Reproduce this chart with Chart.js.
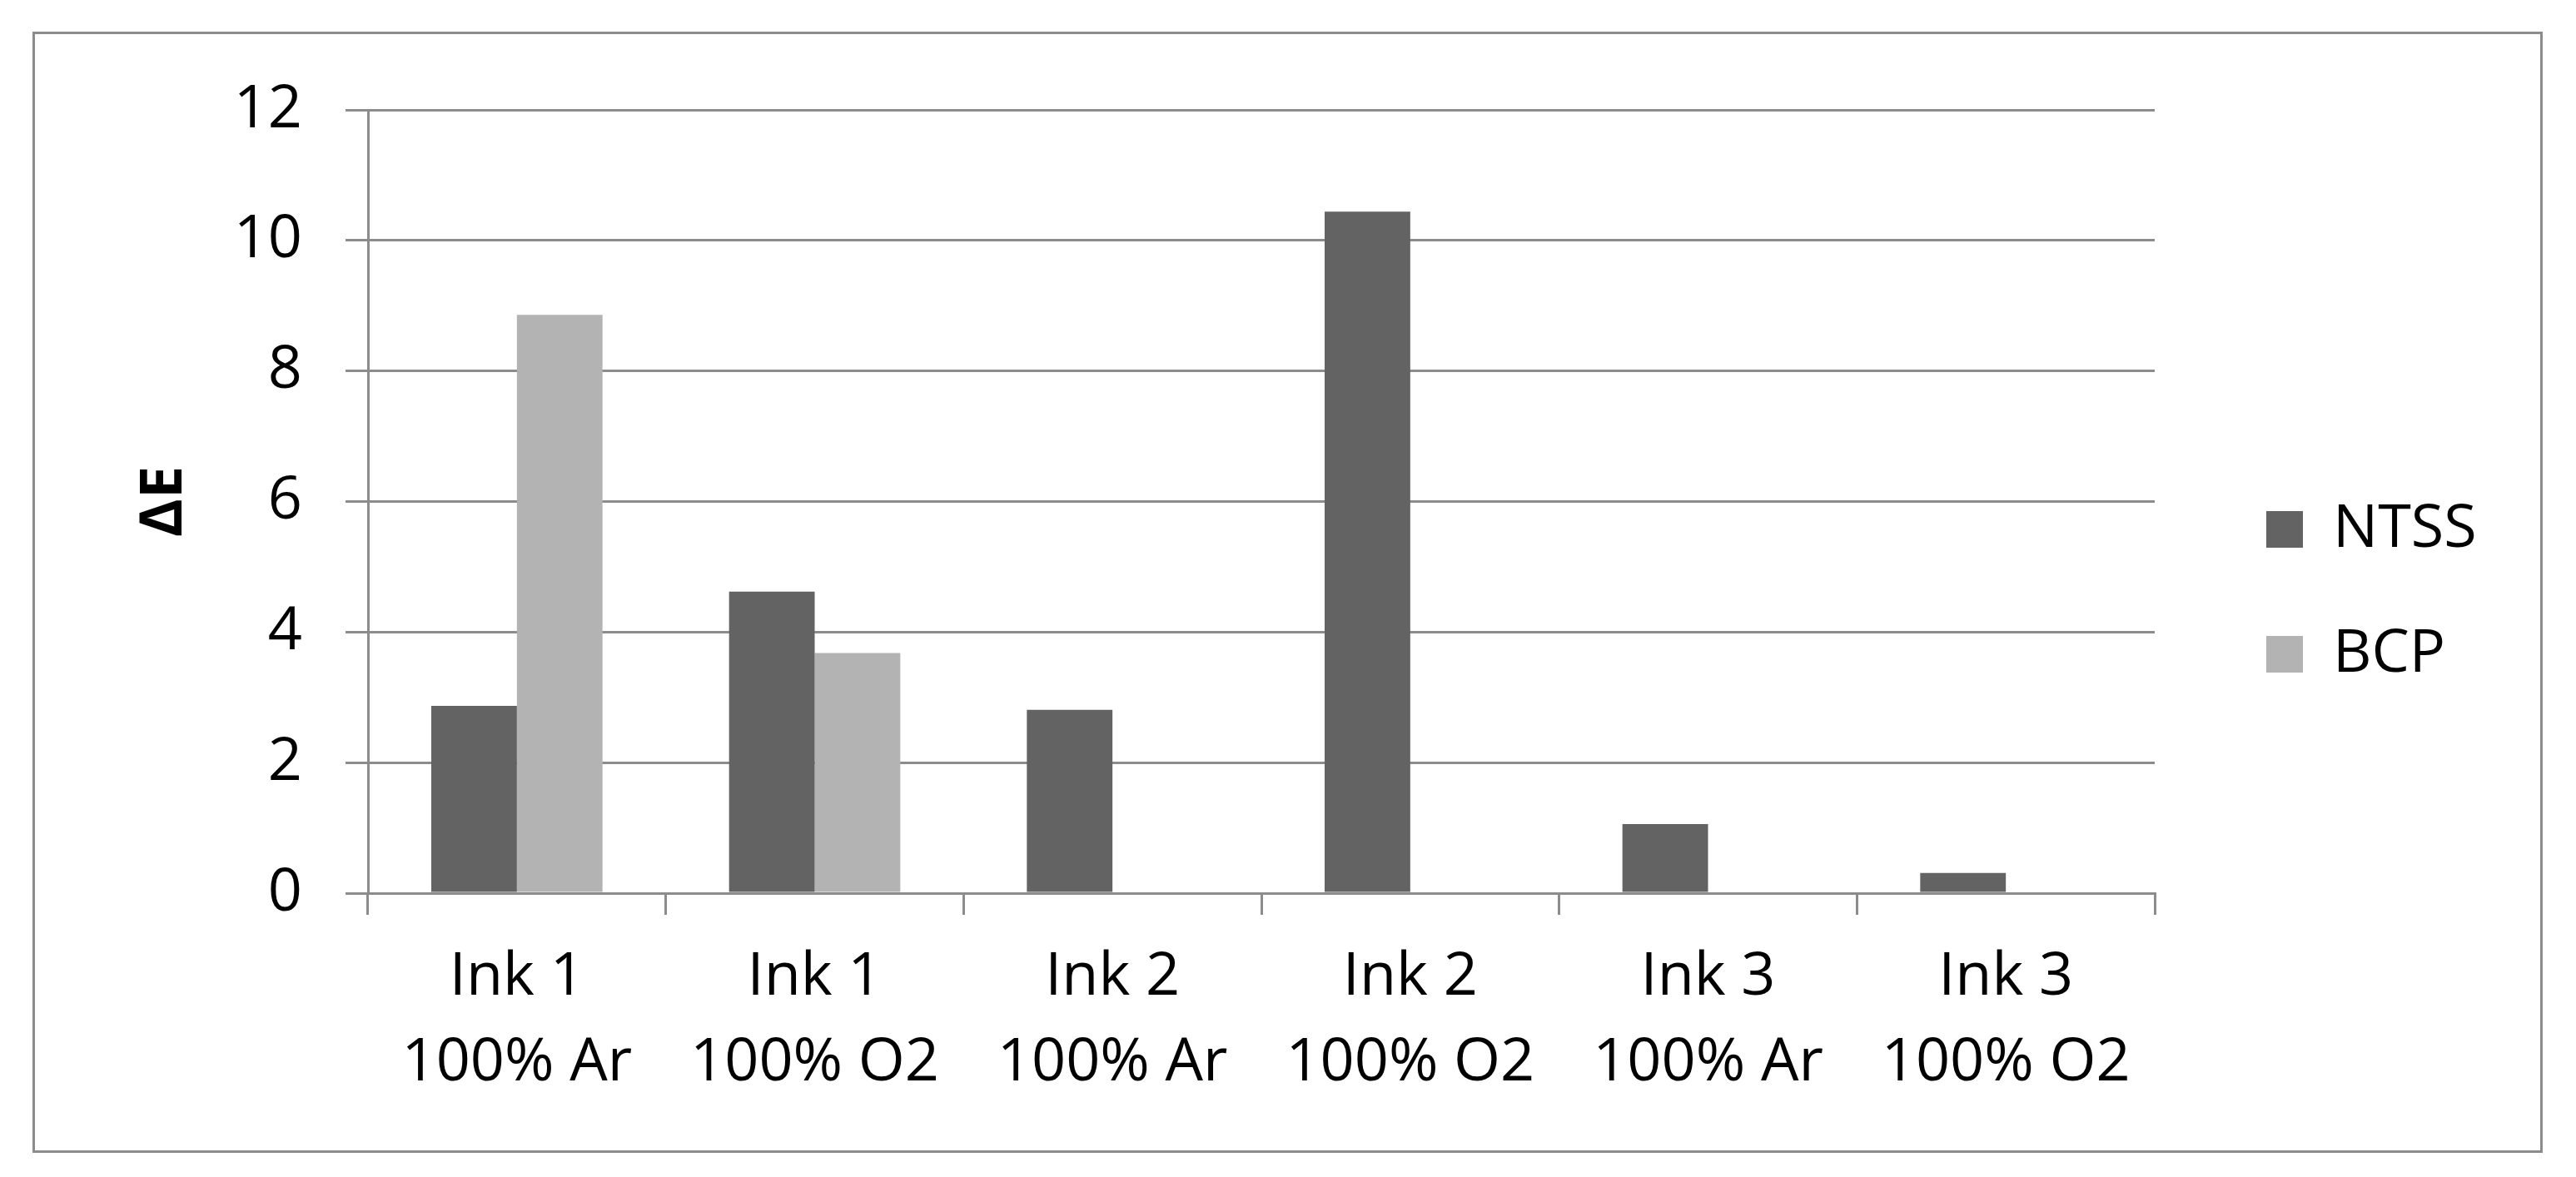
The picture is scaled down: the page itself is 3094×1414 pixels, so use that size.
<!DOCTYPE html>
<html>
<head>
<meta charset="utf-8">
<title>ΔE – NTSS vs BCP</title>
<script src="https://cdn.jsdelivr.net/npm/chart.js@4.4.1/dist/chart.umd.min.js"></script>
<style>
  html, body { margin: 0; padding: 0; background: #fff; }
  canvas { display: block; }
</style>
</head>
<body>
<canvas id="chart" width="3094" height="1414"></canvas>
<script>
// two-line category labels: ink / plasma gas
const inks = ['Ink 1', 'Ink 1', 'Ink 2', 'Ink 2', 'Ink 3', 'Ink 3'];
const gases = ['100% Ar', '100% O2', '100% Ar', '100% O2', '100% Ar', '100% O2'];

const ntss = [2.87, 4.62, 2.81, 10.44, 1.06, 0.31];
const bcp = [8.86, 3.68, null, null, null, null];

const yTicks = [0, 2, 4, 6, 8, 10, 12];

const GRID = '#8c8c8c';
const FONT = "'Open Sans', sans-serif";

// white page plus the thin grey chart frame
const frame = {
  id: 'frame',
  beforeDraw(chart) {
    const ctx = chart.ctx;
    ctx.save();
    ctx.fillStyle = '#fff';
    ctx.fillRect(0, 0, chart.width, chart.height);
    ctx.strokeStyle = GRID;
    ctx.lineWidth = 3;
    ctx.strokeRect(40.5, 39.5, 3012, 1344);
    ctx.restore();
  }
};

// Excel centres the legend on the whole chart box, not on the plot area
const legendSpot = {
  id: 'legendSpot',
  afterLayout(chart) {
    const lg = chart.legend;
    const dx = 56;
    const dy = 711 - (lg.top + lg.bottom) / 2;
    lg.left += dx;
    lg.right += dx + 200; // legend clips to its box, leave room for the text
    lg.top += dy;
    lg.bottom += dy;
  }
};

new Chart(document.getElementById('chart'), {
  type: 'bar',
  data: {
    labels: inks.map((ink, i) => [ink, gases[i]]),
    datasets: [
      { label: 'NTSS', data: ntss, backgroundColor: '#636363', borderWidth: 0 },
      { label: 'BCP', data: bcp, backgroundColor: '#b3b3b3', borderWidth: 0 }
    ]
  },
  options: {
    responsive: false,
    animation: false,
    events: [],
    layout: { padding: { left: 120, top: 132, right: 206, bottom: 91 } },
    datasets: { bar: { categoryPercentage: 0.575, barPercentage: 1 } },
    plugins: {
      legend: {
        position: 'right',
        maxWidth: 300,
        labels: {
          boxWidth: 44,
          boxHeight: 44,
          padding: 78,
          color: '#000',
          font: { family: FONT, size: 72 }
        }
      },
      tooltip: { enabled: false }
    },
    scales: {
      x: {
        grid: { offset: true, drawOnChartArea: false, color: GRID, lineWidth: 3, tickLength: 26 },
        border: { color: GRID, width: 3 },
        ticks: {
          color: '#000',
          padding: 24,
          maxRotation: 0,
          font: { family: FONT, size: 72, lineHeight: 1.43 }
        },
        afterFit(scale) { scale.height = 250; }
      },
      y: {
        min: 0,
        max: 12,
        afterBuildTicks(scale) { scale.ticks = yTicks.map(v => ({ value: v })); },
        grid: { color: GRID, lineWidth: 3, tickLength: 27 },
        border: { color: GRID, width: 3 },
        ticks: { color: '#000', padding: 52, font: { family: FONT, size: 72 } },
        title: {
          display: true,
          text: 'ΔE',
          color: '#000',
          font: { family: FONT, size: 70, weight: 'bold' },
          padding: { top: 36, bottom: 0 }
        },
        afterFit(scale) { scale.width = 322; }
      }
    }
  },
  plugins: [frame, legendSpot]
});
</script>
</body>
</html>
